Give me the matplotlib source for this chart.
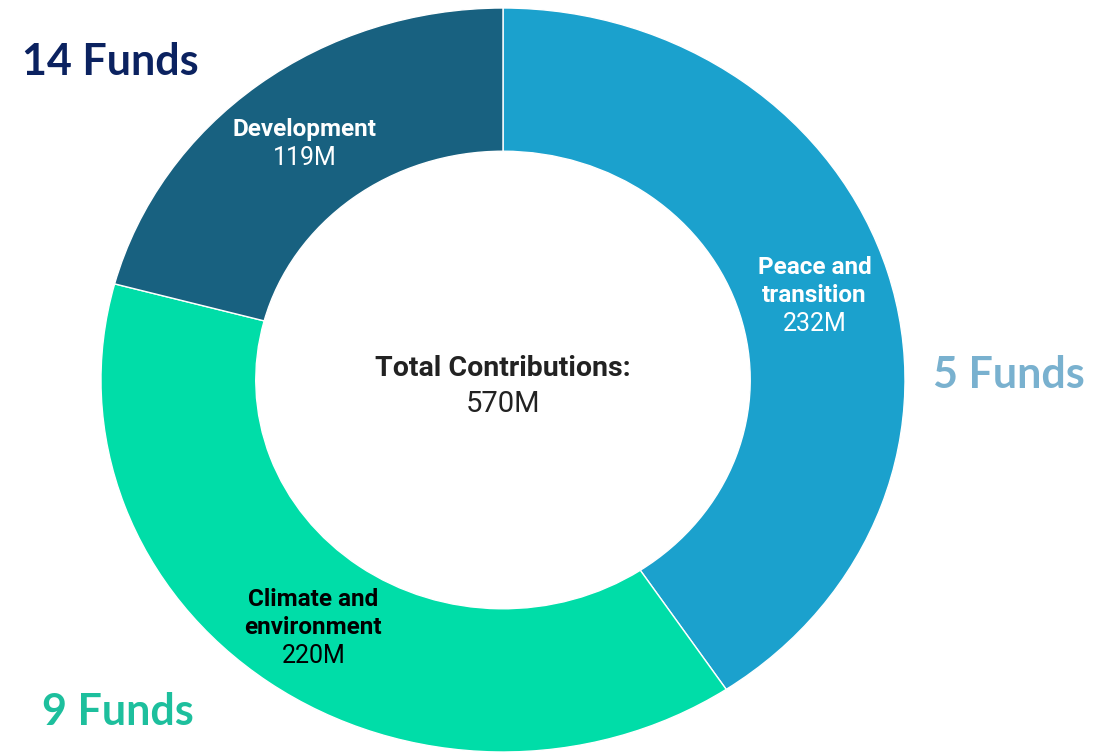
import numpy as np
import matplotlib.pyplot as plt

# data
categories = ['Peace and\ntransition', 'Climate and\nenvironment', 'Development']
values = [232, 220, 119]
value_labels = ['232M', '220M', '119M']
colors = ['#1ba1cd', '#00dda8', '#186180']
label_colors = ['white', 'black', 'white']
fund_counts = ['5 Funds', '9 Funds', '14 Funds']
fund_colors = ['#79b1cf', '#1dbf9d', '#0b2260']
total_label = '570M'

plt.rcParams['font.family'] = ['Roboto', 'DejaVu Sans']

fig = plt.figure(figsize=(11.07, 7.54), dpi=100)
ax = fig.add_axes([0, 0, 1, 1])

wedges, _ = ax.pie(values, colors=colors, startangle=90, counterclock=False,
                   radius=1.0, wedgeprops=dict(width=0.385, edgecolor='white', linewidth=1))
ax.set_aspect('auto')
ax.set_xlim(-1.2512, 1.5025)
ax.set_ylim(-1.0054, 1.0215)
ax.axis('off')

# labels inside the ring
r_lab = 0.81
for w, name, val, c in zip(wedges, categories, value_labels, label_colors):
    mid = np.deg2rad((w.theta1 + w.theta2) / 2)
    x, y = r_lab * np.cos(mid), r_lab * np.sin(mid)
    lines = name.split('\n')
    n = len(lines) + 1
    step = 28.5
    base = -3
    for i, ln in enumerate(lines):
        off = ((n - 1) / 2 - i) * step + base
        ax.annotate(ln, (x, y), xytext=(0, off), textcoords='offset pixels',
                    ha='center', va='center', fontsize=17.5, fontweight='bold', color=c)
    ax.annotate(val, (x, y), xytext=(0, -((n - 1) / 2) * step + base), textcoords='offset pixels',
                ha='center', va='center', fontsize=18, color=c)

# center text
ax.annotate('Total Contributions:', (0, 0), xytext=(0, 11), textcoords='offset pixels',
            ha='center', va='center', fontsize=20.5, fontweight='bold', color='#222222')
ax.annotate(total_label, (0, 0), xytext=(0, -24), textcoords='offset pixels',
            ha='center', va='center', fontsize=21, color='#222222')

# fund counts
fund_pos = [(933 / 1107, 1 - 375 / 754, 'left'),
            (42 / 1107, 1 - 712 / 754, 'left'),
            (22 / 1107, 1 - 62 / 754, 'left')]
for txt, col, (fx, fy, ha) in zip(fund_counts, fund_colors, fund_pos):
    fig.text(fx, fy, txt, ha=ha, va='center', fontsize=31, fontweight='bold',
             color=col, family=['Lato', 'DejaVu Sans'])

fig.savefig('out.png', dpi=100)
